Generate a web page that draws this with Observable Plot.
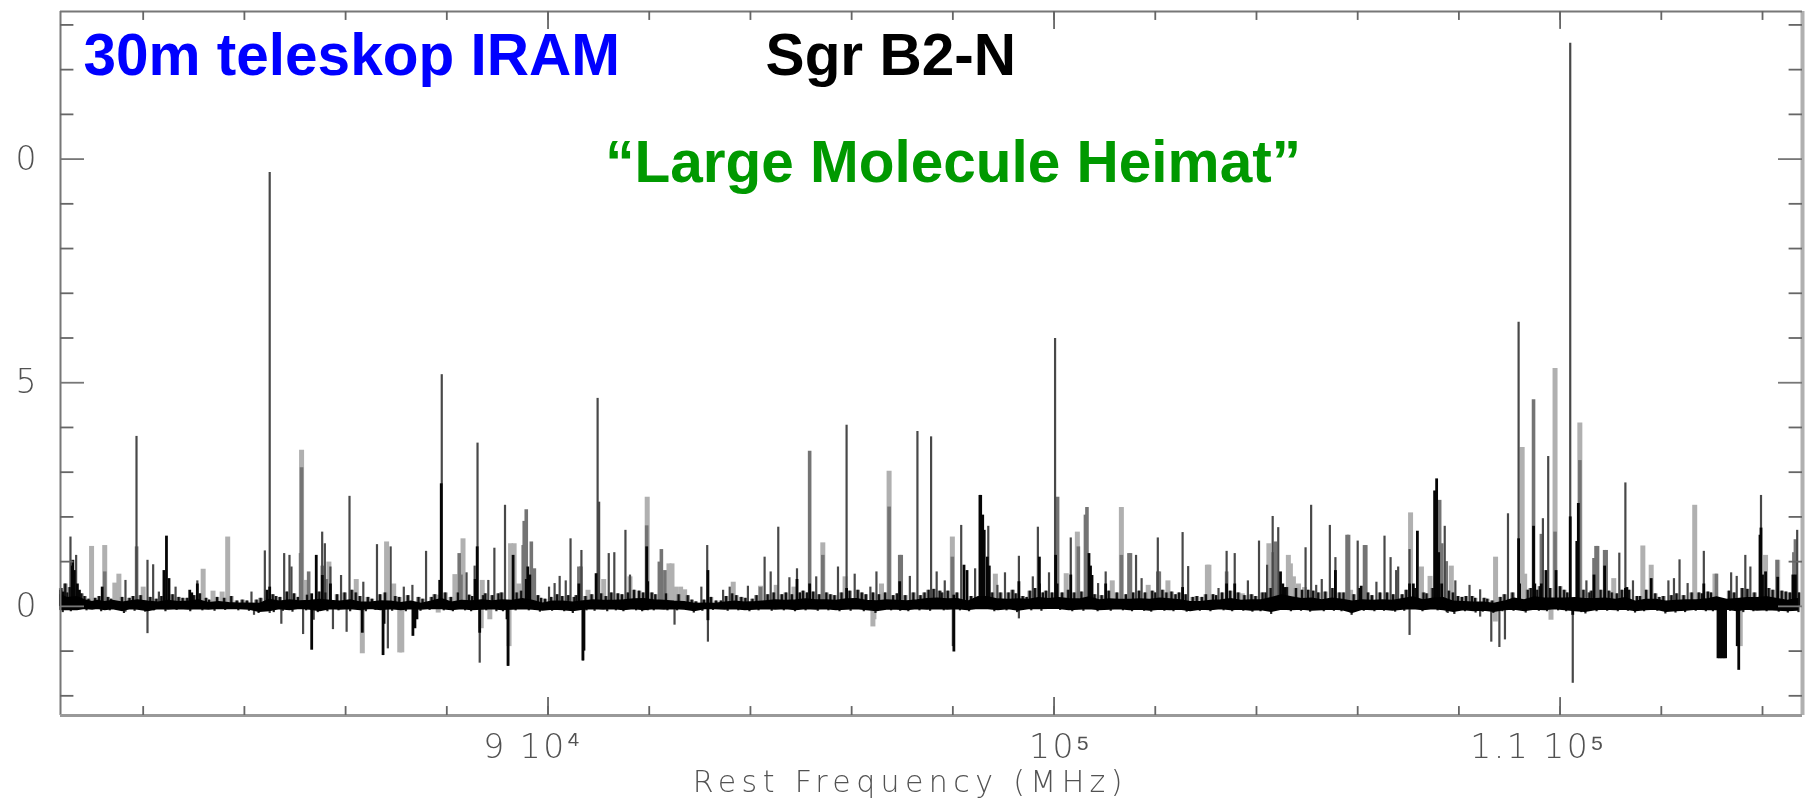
<!DOCTYPE html>
<html>
<head>
<meta charset="utf-8">
<script src="https://cdn.jsdelivr.net/npm/d3@7"></script>
<script src="https://cdn.jsdelivr.net/npm/@observablehq/plot@0.6"></script>
<style>
html,body{margin:0;padding:0;background:#fff;overflow:hidden}
</style>
</head>
<body>
<div id="chart"></div>
<script>
// Rest frequency in GHz, intensity in axis units
const lightLines = [
[80.98,1.34],[81.24,1.36],[81.44,.52],[81.52,.72],[82.0,.43],[83.185,.83],[83.67,1.55],[83.38,.34],[83.56,.32],[85.13,3.49],[85.67,.99],[85.2,.58],
[86.21,.6],[86.81,1.44],[86.95,.5],[88.16,.71],[88.32,1.51],[88.7,.58],[89.26,1.4],[89.33,1.4],[89.42,.5],[87.8,.25],[90.79,.36],[91.1,.6],[91.62,.66],[91.96,2.44],
[92.39,.95],[92.45,.95],[92.52,.43],[92.62,.43],[92.7,.37],[93.66,.54],[94.2,.45],[94.51,.47],[94.86,.43],[95.43,1.42],[95.87,.66],[96.74,3.02],[96.59,.5],
[97.99,1.55],[98.84,.72],[100.24,.73],[100.46,1.66],[101.15,.57],[101.33,2.21],[101.86,.47],[102.25,.57],[103.03,.92],[103.06,.92],[103.72,.28],
[104.245,1.4],[104.63,1.14],[104.67,.95],[104.73,.66],[104.83,.5],[104.95,.42],[105.86,.36],[107.045,2.09],[107.26,.88],[107.43,.67],[107.85,.9],
[108.725,1.1],[109.25,3.55],[109.3,.72],[109.9,5.32],[110.39,4.1],[111.06,.62],[111.635,1.35],[111.8,.92],[112.66,2.26],[113.06,.72],[114.06,1.14],[114.3,1.03]
];
const midLines = [
[81.87,1.33],[81.24,.77],[85.13,3.1],[85.11,1.18],[85.27,.77],[85.54,.9],[85.62,.6],
[88.245,1.18],[88.28,.7],[89.57,2.16],[89.53,1.9],[89.67,1.44],[89.51,1.36],[89.73,.84],[90.61,.88],[90.65,.88],[91.95,1.8],
[92.24,1.27],[92.2,.99],[92.31,.8],[94.2,.42],[95.17,3.47],[95.43,1.14],[96.74,2.22],[96.95,1.14],[96.98,1.14],[97.99,1.1],
[100.07,2.44],[100.48,1.33],[100.62,2.04],[100.65,2.21],[101.33,1.14],[101.48,1.18],[101.51,1.18],[102.05,.77],[102.08,.77],[103.41,.77],
[104.375,1.44],[104.33,1.2],[105.79,1.59],[105.82,1.59],[106.135,1.36],[106.16,1.36],[107.62,2.37],[107.66,1.4],[107.75,1.0],
[109.475,4.62],[109.63,1.61],[109.9,1.66],[110.39,3.26],[110.71,1.34],[110.74,1.34],[110.67,1.07],[110.88,1.25],[110.91,1.25],[113.09,.72],[114.29,1.03],[114.65,1.49],[114.62,1.2]
];
const thinLines = [
[80.563,1.55],[80.675,1.14],[81.868,3.8],[82.085,1.03],[82.197,.93],[82.64,.43],[82.31,.32],[81.65,.58],[83.07,.57],[84.14,.32],[84.404,1.24],[84.5,9.7],
[84.786,1.18],[84.891,1.14],[84.93,.88],[85.537,1.66],[85.59,1.4],[85.7,.88],[86.077,2.46],[85.91,.69],[86.35,.54],[86.62,1.38],[86.89,1.33],[87.15,.43],[87.32,.47],[87.59,1.23],
[87.9,5.18],[88.607,3.65],[88.39,.75],[88.55,.9],[88.94,1.3],[88.82,.58],[89.15,2.26],[90.445,1.51],[90.66,1.25],[90.23,.67],[90.35,.57],[90.13,.51],[90.02,.43],[90.98,4.65],[91.01,2.33],
[91.2,1.18],[91.31,1.2],[91.53,1.7],[91.62,.7],[93.146,1.36],[93.03,.43],[94.28,1.1],[94.4,.77],[94.55,1.77],[93.95,.45],[93.59,.43],[93.46,.36],[94.77,.64],[94.92,.84],[95.3,.66],[95.73,.88],[95.9,4.05],[96.06,.72],
[96.37,.43],[96.49,.77],[97.15,.67],[97.3,3.91],[97.57,3.79],[97.68,.77],[97.84,.57],[98.165,1.81],[98.44,.84],[98.7,1.79],[98.88,.47],[99.03,.75],[99.305,1.12],[99.68,1.77],[99.58,.66],[99.9,.75],
[100.02,5.99],[100.33,1.53],[100.87,.51],[101.02,.77],[101.62,1.14],[101.73,.62],[102.05,1.53],[102.54,1.65],[102.65,.89],[103.25,.4],[103.41,1.23],[103.57,1.18],[103.83,.57],
[104.05,1.46],[104.21,.92],[104.32,2.01],[104.43,1.76],[104.97,1.31],[105.08,2.26],[105.18,.47],[105.29,.6],[105.45,1.81],[105.56,1.09],[106.0,1.46],[106.37,.54],[106.53,1.57],[106.65,1.09],[106.76,.8],[106.8,.88],
[107.025,1.27],[107.72,1.79],[107.93,.57],[108.21,.47],[108.42,.37],[108.97,2.07],[109.18,6.35],[109.66,1.96],[109.765,3.35],[110.2,12.59],[110.52,.57],[111.17,1.19],[111.29,2.76],[111.44,.57],
[112.14,.57],[112.25,.62],[112.36,1.04],[112.52,.51],[112.84,1.23],[113.38,.75],[113.49,.67],[113.66,1.14],[113.76,.88],[113.97,2.48],[114.685,1.7],
// below the baseline
[82.085,-.61],[84.19,-.2],[84.5,-.16],[84.73,-.4],[85.16,-.63],[85.37,-.31],[85.75,-.52],[86.02,-.58],[81.65,-.13],[86.835,-.95],[88.65,-1.27],[89.21,-1.34],[90.69,-1.22],[91.97,-.1],
[92.5,-.42],[93.16,-.8],[99.305,-.28],[107.025,-.65],[105.86,-.15],[108.64,-.8],[108.8,-.92],[108.91,-.75],[108.42,-.24],[107.78,-.16],[110.25,-1.72],[98.0,-.9]
];
const lightNegative = [
[86.33,-1.06],[87.07,-1.04],[87.11,-1.04],[87.83,-.15],[88.85,-.3],[89.23,-.9],[96.42,-.46],[96.44,-.3],[108.72,-.35],[109.82,-.31],[113.56,-.9],[88.68,-.5]
];
const heavyLines = [
[80.61,1.03],[80.6,.9],[80.64,.8],[80.7,.5],[80.74,.36],[80.37,.36],[80.42,.32],[81.19,.43],[82.46,1.57],[82.41,.8],[82.51,.62],[84.5,.43],[84.45,.36],[82.92,.36],[82.96,.3],[83.07,.5],
[85.42,1.14],[85.54,.69],[85.7,.5],[85.33,.28],[87.86,.58],[87.89,2.74],[88.6,1.33],[88.56,.6],[89.31,1.14],[89.6,.88],[89.64,.7],[89.57,.6],[90.61,.5],[90.95,.73],[91.95,1.33],[91.97,.55],
[93.16,.8],[94.92,.6],[95.17,.5],[95.9,.4],[96.95,.55],[98.02,.25],[98.22,.92],[98.28,.8],[98.535,2.48],[98.55,2.48],[98.59,2.04],[98.62,1.7],[98.68,1.1],[98.72,.9],[99.305,.55],[99.71,1.1],[99.71,.5],
[100.03,1.14],[100.06,.5],[100.33,.7],[100.69,1.18],[100.72,.9],[100.75,.69],[101.02,.5],[102.54,.42],[103.41,.5],[103.57,.5],
[104.475,.77],[104.52,.5],[104.56,.42],[105.56,.8],[106.04,.4],[106.07,.45],[107.1,.5],[107.025,.5],[107.18,1.68],[107.52,2.58],[107.56,2.85],[107.54,1.5],[107.6,1.2],[107.66,.5],
[109.18,1.51],[109.2,.5],[109.475,1.79],[109.5,.5],[109.63,.5],[109.72,.8],[109.92,.8],[110.2,2.0],[110.36,2.3],[110.33,1.45],[110.67,.7],[110.88,.9],[111.29,.4],[111.32,.42],[111.8,.62],
[112.84,.5],[113.95,1.59],[113.97,1.75],[114.0,.7],[114.06,.77],[114.3,.65],[114.6,.7],[114.65,.7],
// below the baseline
[85.33,-.98],[86.33,-.6],[86.74,-1.1],[86.76,-.4],[87.33,-.67],[87.37,-.5],[87.41,-.3],[88.65,-.6],[89.21,-1.34],[89.19,-.3],[90.69,-1.22],[90.71,-1.0],[93.16,-.32],[98.02,-1.02],
[113.12,-1.17],[113.15,-1.17],[113.18,-1.17],[113.21,-1.17],[113.24,-1.17],[113.27,-1.17],[113.53,-1.43],[113.5,-.9],[110.25,-.2]
];
// Short unresolved lines that stand along the baseline
const grassLines = [
[80.38,.4],[80.46,.5],[80.5,.3],[80.55,.42],[80.78,.28],[80.84,.22],[80.92,.16],[81.05,.18],[81.13,.22],[81.3,.2],[81.36,.16],[81.58,.2],[81.73,.18],[81.8,.22],[81.95,.24],[82.14,.2],[82.26,.16],[82.36,.22],
[82.58,.26],[82.7,.2],[82.78,.18],[82.87,.18],[83.0,.24],[83.12,.28],[83.24,.18],[83.3,.14],[83.46,.2],[83.6,.18],[83.74,.22],[83.85,.12],[83.96,.14],[84.05,.12],[84.24,.14],[84.32,.18],[84.56,.26],[84.62,.22],[84.7,.2],
[84.84,.32],[84.98,.28],[85.06,.2],[85.24,.25],[85.48,.32],[85.6,.3],[85.83,.26],[85.98,.3],[86.12,.36],[86.2,.3],[86.28,.22],[86.44,.2],[86.52,.16],[86.68,.26],[86.78,.3],[86.98,.22],[87.06,.2],[87.23,.24],[87.44,.2],[87.52,.16],[87.7,.2],[87.76,.26],
[87.97,.3],[88.08,.2],[88.22,.3],[88.44,.25],[88.5,.22],[88.72,.24],[88.76,.28],[88.9,.24],[89.02,.28],[89.08,.3],[89.38,.3],[89.47,.34],[89.8,.24],[89.86,.18],[89.94,.16],[90.06,.2],[90.18,.26],[90.28,.22],[90.4,.24],[90.52,.2],[90.56,.24],
[90.74,.22],[90.86,.26],[91.05,.28],[91.14,.22],[91.25,.3],[91.38,.28],[91.46,.26],[91.58,.3],[91.7,.36],[91.8,.34],[91.88,.3],[92.05,.3],[92.12,.26],[92.33,.28],[92.58,.26],[92.76,.24],[92.84,.14],[92.92,.1],[93.08,.14],[93.22,.2],[93.32,.12],[93.42,.12],
[93.52,.22],[93.64,.28],[93.72,.24],[93.82,.2],[93.9,.18],[94.04,.16],[94.12,.24],[94.34,.26],[94.46,.3],[94.62,.26],[94.7,.3],[94.82,.26],[94.98,.3],[95.04,.34],[95.12,.3],[95.24,.32],[95.36,.26],[95.5,.3],[95.58,.26],[95.66,.24],[95.8,.3],[95.96,.34],[96.12,.36],[96.2,.3],[96.28,.26],[96.42,.3],
[96.54,.26],[96.66,.3],[96.82,.24],[96.9,.28],[97.06,.24],[97.22,.3],[97.36,.24],[97.44,.3],[97.52,.36],[97.62,.38],[97.74,.34],[97.78,.3],[97.9,.34],[98.08,.3],[98.36,.22],[98.78,.3],[98.94,.3],[99.1,.3],[99.18,.36],[99.24,.28],[99.38,.22],[99.46,.2],[99.52,.34],[99.62,.4],[99.78,.3],
[99.84,.34],[99.96,.3],[100.16,.3],[100.28,.36],[100.4,.3],[100.54,.32],[100.8,.26],[100.94,.24],[101.08,.34],[101.24,.3],[101.42,.26],[101.56,.3],[101.68,.34],[101.8,.3],[101.94,.34],[102.0,.3],[102.14,.36],[102.22,.3],[102.32,.32],[102.4,.26],[102.47,.3],[102.6,.26],[102.74,.2],
[102.82,.22],[102.92,.2],[103.0,.26],[103.14,.26],[103.2,.24],[103.32,.3],[103.48,.34],[103.64,.3],[103.76,.24],[103.9,.26],[103.98,.22],[104.12,.3],[104.18,.3],[104.28,.4],[104.6,.42],[104.78,.4],[104.9,.36],[105.02,.36],[105.12,.34],[105.22,.3],[105.36,.32],[105.5,.4],[105.64,.3],[105.72,.3],[105.92,.26],
[106.2,.3],[106.28,.24],[106.44,.3],[106.58,.3],[106.7,.26],[106.88,.26],[106.96,.36],[107.14,.4],[107.3,.3],[107.36,.28],[107.48,.4],[107.8,.34],[107.88,.3],[107.98,.22],[108.06,.2],[108.14,.22],[108.26,.22],[108.32,.18],[108.5,.18],[108.56,.16],[108.66,.12],[108.82,.2],[108.9,.26],[109.06,.3],
[109.36,.36],[109.42,.4],[109.55,.36],[109.6,.44],[109.8,.4],[110.0,.44],[110.08,.36],[110.14,.3],[110.46,.36],[110.58,.3],[110.62,.34],[110.8,.36],[110.96,.34],[111.02,.3],[111.12,.28],[111.22,.36],[111.36,.36],[111.52,.22],[111.58,.22],[111.7,.36],[111.88,.28],[111.96,.2],[112.04,.22],[112.2,.24],
[112.3,.28],[112.44,.24],[112.6,.3],[112.74,.3],[112.8,.28],[112.92,.32],[112.98,.3],[113.34,.34],[113.44,.3],[113.6,.4],[113.7,.38],[113.84,.3],[114.12,.4],[114.2,.36],[114.38,.34],[114.46,.32],[114.54,.3],[114.72,.3]
];
// Small dips and nicks that roughen the band
const dipLines = [
[80.41,-.14],[80.57,-.12],[80.88,-.1],[81.17,-.12],[81.34,-.1],[81.62,-.16],[81.83,-.11],[82.04,-.13],[82.21,-.1],[82.44,-.12],[82.66,-.09],[82.93,-.12],[83.17,-.1],[83.41,-.11],[83.62,-.09],[83.88,-.1],[84.09,-.11],[84.28,-.16],[84.58,-.14],[84.76,-.11],[84.95,-.13],
[85.22,-.1],[85.45,-.14],[85.64,-.12],[85.86,-.1],[86.09,-.12],[86.4,-.12],[86.59,-.09],[86.92,-.11],[87.19,-.12],[87.48,-.11],[87.66,-.09],[87.94,-.1],[88.12,-.12],[88.36,-.1],[88.48,-.12],[88.78,-.1],[88.98,-.12],[89.11,-.12],[89.36,-.1],[89.62,-.1],[89.84,-.13],[90.08,-.11],[90.32,-.12],[90.49,-.16],[90.76,-.1],[90.92,-.11],
[91.17,-.12],[91.34,-.1],[91.49,-.12],[91.74,-.1],[91.86,-.12],[92.09,-.1],[92.36,-.1],[92.55,-.1],[92.88,-.15],[93.05,-.11],[93.26,-.09],[93.55,-.11],[93.76,-.1],[93.98,-.12],[94.16,-.1],[94.42,-.11],[94.66,-.1],[94.88,-.12],[95.09,-.1],[95.33,-.11],[95.54,-.1],[95.76,-.12],[95.98,-.11],[96.24,-.12],[96.47,-.16],[96.78,-.1],[96.96,-.11],
[97.12,-.12],[97.34,-.1],[97.55,-.11],[97.82,-.1],[98.14,-.1],[98.32,-.12],[98.82,-.12],[99.06,-.1],[99.27,-.14],[99.55,-.1],[99.75,-.11],[100.12,-.09],[100.36,-.12],[100.58,-.11],[100.86,-.12],[101.12,-.11],[101.36,-.1],[101.54,-.12],[101.78,-.11],[101.92,-.13],[102.18,-.11],[102.36,-.12],[102.62,-.13],[102.88,-.11],[103.09,-.12],[103.35,-.1],[103.52,-.12],[103.74,-.11],[103.92,-.13],
[104.08,-.12],[104.29,-.18],[104.68,-.12],[104.88,-.11],[105.06,-.13],[105.33,-.12],[105.53,-.11],[105.68,-.12],[105.88,-.2],[106.12,-.11],[106.33,-.12],[106.52,-.11],[106.74,-.13],[106.92,-.11],[107.28,-.12],[107.58,-.1],[107.76,-.14],[107.91,-.18],[108.12,-.12],[108.33,-.15],[108.47,-.13],[108.68,-.16],[108.86,-.12],[109.08,-.11],
[109.32,-.15],[109.58,-.11],[109.74,-.12],[109.96,-.1],[110.12,-.12],[110.42,-.14],[110.5,-.17],[110.72,-.12],[110.93,-.11],[111.14,-.12],[111.34,-.11],[111.48,-.15],[111.66,-.12],[111.92,-.11],[112.08,-.17],[112.28,-.15],[112.47,-.14],[112.68,-.11],[112.88,-.12],[113.02,-.12],[113.36,-.11],[113.62,-.14],[113.82,-.12],[114.08,-.12],[114.32,-.13],[114.5,-.15],[114.71,-.14]
];
// Rough upper and lower edge of the dark noise band
const bandEdges = [
[80.37,.25,-.08],[80.5,.18,-.08],[80.7,.2,-.08],[80.85,.13,-.05],[81.0,.09,-.07],[81.1,.12,-.05],[81.25,.09,-.08],[81.4,.12,-.06],[81.6,.08,-.1],[81.75,.11,-.06],[81.9,.13,-.07],[82.1,.1,-.1],[82.3,.08,-.06],[82.5,.12,-.07],[82.7,.09,-.06],[82.9,.1,-.07],[83.1,.13,-.06],[83.3,.07,-.07],[83.5,.09,-.05],[83.7,.07,-.06],[83.9,.06,-.06],[84.1,.06,-.07],[84.3,.05,-.12],[84.5,.14,-.1],[84.7,.1,-.06],[84.9,.13,-.08],[85.1,.11,-.05],[85.3,.12,-.07],[85.5,.14,-.1],[85.7,.12,-.06],[85.9,.1,-.07],[86.1,.13,-.06],[86.3,.08,-.08],[86.5,.08,-.05],[86.7,.11,-.08],[86.9,.1,-.06],[87.1,.07,-.08],[87.3,.1,-.06],[87.5,.05,-.07],[87.7,.1,-.05],[87.9,.16,-.06],[88.1,.08,-.08],[88.3,.12,-.06],[88.5,.11,-.08],[88.7,.13,-.07],[88.9,.11,-.06],[89.1,.13,-.08],[89.3,.12,-.07],[89.5,.16,-.06],[89.7,.12,-.07],[89.9,.06,-.09],[90.1,.1,-.07],[90.3,.1,-.08],[90.5,.08,-.1],[90.7,.11,-.07],[90.9,.13,-.06],[91.1,.12,-.07],[91.3,.12,-.06],[91.5,.13,-.08],[91.7,.15,-.06],[91.9,.16,-.08],[92.1,.13,-.06],[92.3,.12,-.07],[92.5,.1,-.06],[92.7,.09,-.07],[92.9,.05,-.1],[93.1,.06,-.06],[93.3,.05,-.06],[93.5,.08,-.07],[93.7,.1,-.06],[93.9,.08,-.08],[94.1,.09,-.07],[94.3,.11,-.06],[94.5,.13,-.07],[94.7,.12,-.06],[94.9,.13,-.08],[95.1,.15,-.06],[95.3,.13,-.07],[95.5,.13,-.06],[95.7,.12,-.08],[95.9,.15,-.07],[96.1,.16,-.06],[96.3,.12,-.08],[96.5,.11,-.1],[96.7,.13,-.07],[96.9,.12,-.07],[97.1,.11,-.08],[97.3,.13,-.06],[97.5,.16,-.07],[97.7,.17,-.06],[97.9,.15,-.07],[98.1,.16,-.06],[98.3,.1,-.08],[98.5,.2,-.05],[98.7,.2,-.06],[98.9,.15,-.08],[99.1,.14,-.06],[99.3,.15,-.09],[99.5,.14,-.06],[99.7,.18,-.06],[99.9,.16,-.05],[100.1,.18,-.05],[100.3,.16,-.08],[100.5,.15,-.07],[100.7,.2,-.06],[100.9,.13,-.08],[101.1,.15,-.07],[101.3,.14,-.06],[101.5,.14,-.08],[101.7,.15,-.07],[101.9,.14,-.09],[102.1,.17,-.07],[102.3,.15,-.08],[102.5,.13,-.07],[102.7,.09,-.1],[102.9,.09,-.07],[103.1,.12,-.08],[103.3,.13,-.06],[103.5,.16,-.08],[103.7,.12,-.07],[103.9,.13,-.09],[104.1,.13,-.08],[104.3,.18,-.12],[104.5,.24,-.07],[104.7,.2,-.08],[104.9,.16,-.07],[105.1,.17,-.09],[105.3,.13,-.08],[105.5,.17,-.07],[105.7,.14,-.08],[105.9,.1,-.14],[106.1,.13,-.07],[106.3,.12,-.08],[106.5,.13,-.07],[106.7,.12,-.09],[106.9,.16,-.07],[107.1,.2,-.06],[107.3,.13,-.08],[107.5,.17,-.06],[107.7,.18,-.08],[107.9,.1,-.12],[108.1,.09,-.08],[108.3,.08,-.1],[108.5,.08,-.09],[108.7,.05,-.12],[108.9,.1,-.08],[109.1,.17,-.07],[109.3,.13,-.1],[109.5,.2,-.07],[109.7,.17,-.08],[109.9,.17,-.06],[110.1,.17,-.08],[110.3,.18,-.1],[110.5,.16,-.12],[110.7,.16,-.08],[110.9,.17,-.07],[111.1,.14,-.08],[111.3,.18,-.07],[111.5,.1,-.1],[111.7,.14,-.08],[111.9,.14,-.07],[112.1,.1,-.12],[112.3,.12,-.1],[112.5,.13,-.09],[112.7,.13,-.07],[112.9,.15,-.08],[113.1,.2,-.08],[113.3,.14,-.07],[113.5,.16,-.1],[113.7,.18,-.07],[113.9,.18,-.09],[114.1,.2,-.08],[114.3,.16,-.09],[114.5,.12,-.1],[114.7,.16,-.09]
];
const xMinorTicks = [82000,84000,86000,88000,90000,92000,94000,96000,98000,100000,102000,104000,106000,108000,110000,112000,114000];
const xMajorTicks = [90000,100000,110000];
const xTickText = ["9 10⁴","10⁵","1.1 10⁵"];
const xTickTextAt = [89700,100130,109570];
const yMinorTicks = [-2,-1,1,2,3,4,6,7,8,9,11,12,13];
const yMajorTicks = [0,5,10];
const yTickText = ["0","5","0"];
const noteTexts = ["30m teleskop IRAM","Sgr B2-N","“Large Molecule Heimat”"];
const xAxisTitle = "Rest Frequency (MHz)";
const xDomain = [80366,114790], yDomain = [-2.44,13.3];
const stem = (rows, stroke, strokeWidth) => Plot.ruleX(rows, {x: d => d[0]*1000, y1: 0, y2: d => d[1], stroke, strokeWidth});
const ink = "#525252";
const axisFont = "DejaVu Sans, sans-serif";
const chart = Plot.plot({
  width: 1810, height: 798,
  marginLeft: 60, marginRight: 8, marginTop: 11, marginBottom: 83,
  style: {background: "#fff", overflow: "visible"},
  x: {domain: xDomain, range: [60,1802], label: null, axis: null},
  y: {domain: yDomain, range: [715,11], label: null},
  marks: [
    stem(lightLines, "#b0b0b0", 5),
    stem(lightNegative, "#b0b0b0", 5),
    stem(grassLines, "#8a8a8a", 4.5),
    stem(midLines, "#747474", 3.6),
    stem(thinLines, "#484848", 2.2),
    stem(grassLines, "#111", 2.2),
    stem(dipLines, "#222", 2.2),
    stem(heavyLines, "#050505", 2.8),
    Plot.areaY(bandEdges, {x: d => d[0]*1000, y1: d => d[2], y2: d => d[1], fill: "#000", stroke: "#000", strokeWidth: 1.6, curve: "linear"}),
    // frame
    Plot.ruleX([xDomain[0]], {stroke: "#777", strokeWidth: 2}),
    Plot.ruleX([xDomain[1]], {stroke: "#b0b0b0", strokeWidth: 4}),
    Plot.ruleY([yDomain[1]], {stroke: "#777", strokeWidth: 2}),
    Plot.ruleY([yDomain[0]], {stroke: "#999", strokeWidth: 3}),
    // inward ticks
    Plot.ruleX(xMinorTicks, {x: d => d, y1: yDomain[0], y2: yDomain[0]+0.2, stroke: "#666", strokeWidth: 1.8}),
    Plot.ruleX(xMajorTicks, {x: d => d, y1: yDomain[0], y2: yDomain[0]+0.4, stroke: "#666", strokeWidth: 1.8}),
    Plot.ruleX(xMinorTicks, {x: d => d, y1: yDomain[1], y2: yDomain[1]-0.2, stroke: "#666", strokeWidth: 1.8}),
    Plot.ruleX(xMajorTicks, {x: d => d, y1: yDomain[1], y2: yDomain[1]-0.4, stroke: "#666", strokeWidth: 1.8}),
    Plot.ruleY(yMinorTicks, {y: d => d, x1: xDomain[0], x2: xDomain[0]+265, stroke: "#666", strokeWidth: 1.8}),
    Plot.ruleY(yMajorTicks, {y: d => d, x1: xDomain[0], x2: xDomain[0]+474, stroke: "#777", strokeWidth: 1.8}),
    Plot.ruleY(yMinorTicks, {y: d => d, x1: xDomain[1], x2: xDomain[1]-265, stroke: "#666", strokeWidth: 1.8}),
    Plot.ruleY(yMajorTicks, {y: d => d, x1: xDomain[1], x2: xDomain[1]-474, stroke: "#777", strokeWidth: 1.8}),
    // axis text
    Plot.text(xTickText, {x: (d, i) => xTickTextAt[i], y: yDomain[0], dy: 32, text: d => d, fontSize: 33, fontFamily: axisFont, fontWeight: 200, fill: ink, clip: false}),
    Plot.text([xAxisTitle], {x: 97160, y: yDomain[0], dy: 67, text: d => d, fontSize: 30, fontFamily: axisFont, fontWeight: 200, fill: ink, clip: false}),
    Plot.axisY({anchor: "left", ticks: yMajorTicks, tickSize: 0, tickPadding: 24, fontSize: 33,
      tickFormat: d => yTickText[yMajorTicks.indexOf(d)], fontFamily: axisFont, fontWeight: 200, fill: ink, label: null}),
    // annotations
    Plot.text([noteTexts[0]], {x: 80820, y: 12.31, text: d => d, textAnchor: "start", fill: "#0000ff", fontSize: 58.5, fontWeight: 700, fontFamily: "Liberation Sans"}),
    Plot.text([noteTexts[1]], {x: 94300, y: 12.31, text: d => d, textAnchor: "start", fill: "#000", fontSize: 58.5, fontWeight: 700, fontFamily: "Liberation Sans"}),
    Plot.text([noteTexts[2]], {x: 91130, y: 9.9, text: d => d, textAnchor: "start", fill: "#009900", fontSize: 58.5, fontWeight: 700, fontFamily: "Liberation Sans"})
  ]
});
// the spectrum is a soft scan; the three notes stay sharp
for (const g of chart.children) {
  if (g.tagName.toLowerCase() !== "g") continue;
  const t = g.textContent;
  if (t.includes(xAxisTitle)) g.style.letterSpacing = "5.4px";
  if (t.includes(xTickText[0])) g.style.letterSpacing = "2.5px";
  if (!noteTexts.some(n => t.includes(n))) g.style.filter = "blur(0.6px)";
}
document.getElementById("chart").appendChild(chart);
</script>
</body>
</html>
